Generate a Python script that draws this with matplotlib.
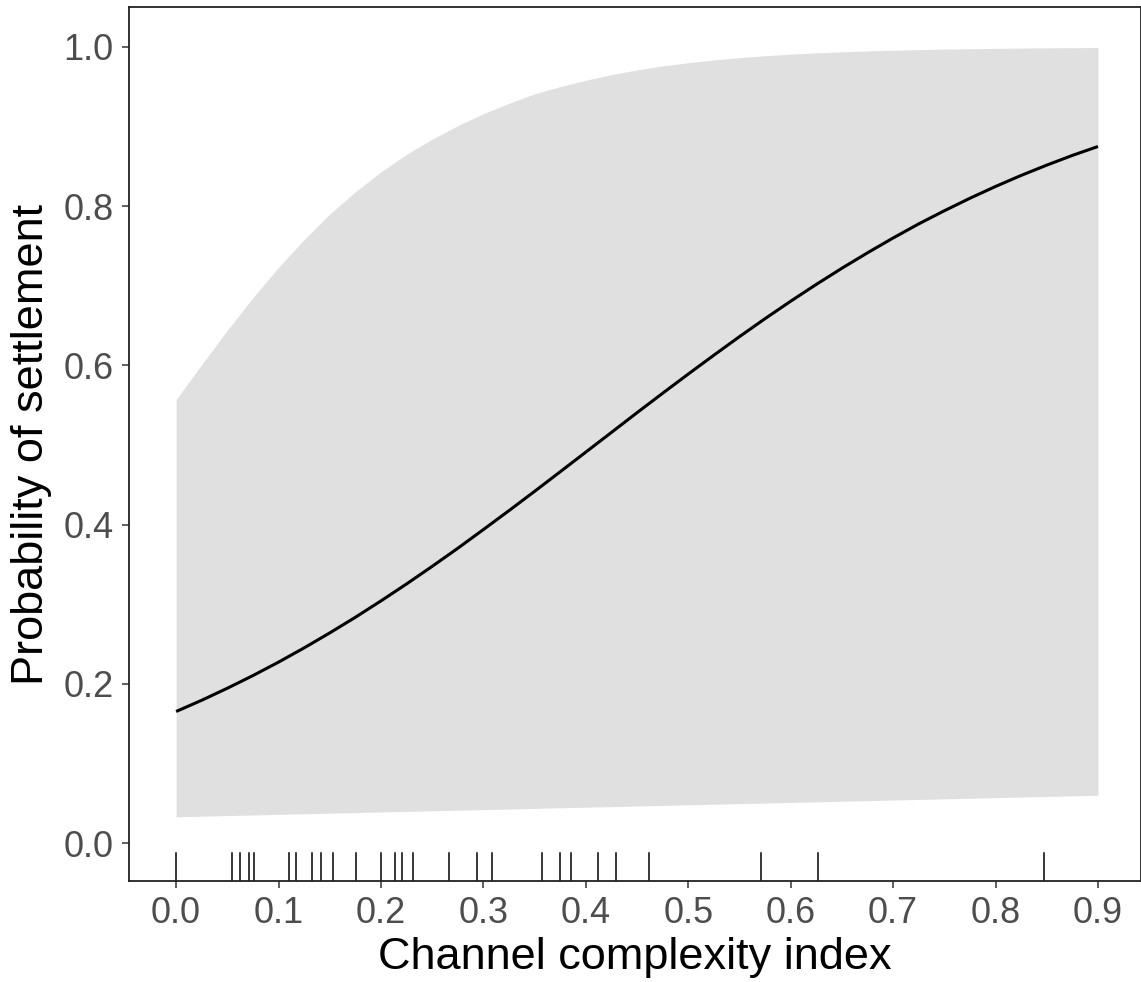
import numpy as np
import matplotlib as mpl
mpl.use("Agg")
import matplotlib.pyplot as plt
import matplotlib.transforms as mtransforms

plt.rcParams["font.family"] = ["Liberation Sans", "DejaVu Sans"]

# Fitted curve and confidence band (every 0.025)
complexity = [0.000, 0.025, 0.050, 0.075, 0.100, 0.125, 0.150, 0.175, 0.200, 0.225,
              0.250, 0.275, 0.300, 0.325, 0.350, 0.375, 0.400, 0.425, 0.450, 0.475,
              0.500, 0.525, 0.550, 0.575, 0.600, 0.625, 0.650, 0.675, 0.700, 0.725,
              0.750, 0.775, 0.800, 0.825, 0.850, 0.875, 0.900]
prob_fit = [0.1652, 0.1793, 0.1944, 0.2103, 0.2272, 0.2451, 0.2639, 0.2835, 0.3041, 0.3254,
            0.3475, 0.3702, 0.3937, 0.4175, 0.4417, 0.4663, 0.4910, 0.5157, 0.5405, 0.5649,
            0.5890, 0.6127, 0.6360, 0.6586, 0.6805, 0.7016, 0.7219, 0.7413, 0.7599, 0.7776,
            0.7941, 0.8098, 0.8246, 0.8385, 0.8514, 0.8636, 0.8748]
prob_upper = [0.557, 0.601, 0.644, 0.685, 0.723, 0.758, 0.790, 0.818, 0.843, 0.865,
              0.884, 0.901, 0.916, 0.929, 0.941, 0.950, 0.958, 0.965, 0.971, 0.976,
              0.980, 0.9835, 0.9864, 0.9888, 0.9908, 0.9924, 0.9937, 0.9948, 0.9957, 0.9965,
              0.9971, 0.9976, 0.9980, 0.9984, 0.9987, 0.9989, 0.9991]
prob_lower = [0.0330, 0.0337, 0.0345, 0.0352, 0.0360, 0.0367, 0.0375, 0.0382, 0.0390, 0.0397,
              0.0405, 0.0412, 0.0420, 0.0427, 0.0435, 0.0442, 0.0450, 0.0457, 0.0465, 0.0472,
              0.0480, 0.0487, 0.0495, 0.0502, 0.0510, 0.0517, 0.0525, 0.0532, 0.0540, 0.0547,
              0.0555, 0.0562, 0.0570, 0.0577, 0.0585, 0.0592, 0.0600]

# Observed complexity values (rug)
rug_x = [0.0, 0.0545, 0.0626, 0.0708, 0.0757, 0.1106, 0.1171, 0.1327, 0.1419,
         0.1533, 0.1761, 0.2002, 0.2133, 0.2208, 0.2312, 0.2664, 0.2941, 0.3085,
         0.3568, 0.3747, 0.3854, 0.4116, 0.4295, 0.4614, 0.5713, 0.6268, 0.8475]

xticks = [0.0, 0.1, 0.2, 0.3, 0.4, 0.5, 0.6, 0.7, 0.8, 0.9]
yticks = [0.0, 0.2, 0.4, 0.6, 0.8, 1.0]

fig = plt.figure(figsize=(11.41, 9.82), dpi=100)
ax = fig.add_axes([129 / 1141, 1 - 881 / 982, 1012 / 1141, 874 / 982])

ax.fill_between(complexity, prob_lower, prob_upper, color="#E0E0E0", linewidth=0)
ax.plot(complexity, prob_fit, color="black", linewidth=2.2, solid_capstyle="butt")

# rug along the bottom, in data x / axes-fraction y
trans = mtransforms.blended_transform_factory(ax.transData, ax.transAxes)
for r in rug_x:
    ax.plot([r, r], [0, 0.032], color="black", linewidth=1.1, transform=trans)

ax.set_xlim(-0.046, 0.942)
ax.set_ylim(-0.0477, 1.050)
ax.set_xticks(xticks)
ax.set_xticklabels([f"{t:.1f}" for t in xticks])
ax.set_yticks(yticks)
ax.set_yticklabels([f"{t:.1f}" for t in yticks])

for s in ax.spines.values():
    s.set_color("#222222")
    s.set_linewidth(1.3)

ax.tick_params(axis="both", length=5, width=1.1, color="#333333",
               labelcolor="#4D4D4D", labelsize=26, pad=6)

ax.set_xlabel("Channel complexity index", fontsize=32.5, labelpad=4)
ax.set_ylabel("Probability of settlement", fontsize=32.5, labelpad=8)

fig.savefig("out.png", dpi=100)
